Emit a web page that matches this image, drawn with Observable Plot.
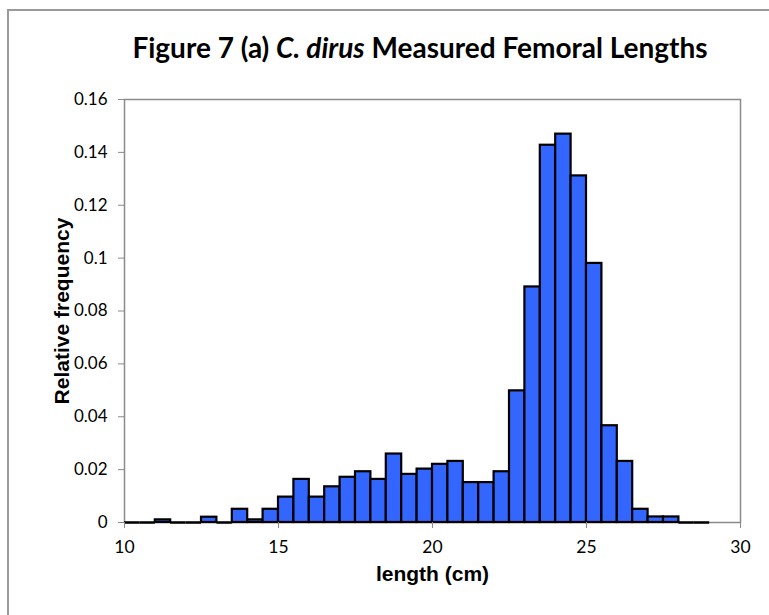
<!DOCTYPE html>
<html><head><meta charset="utf-8">
<script src="https://cdn.jsdelivr.net/npm/d3@7"></script>
<script src="https://cdn.jsdelivr.net/npm/@observablehq/plot@0.6"></script>
<style>
body{margin:0;background:#fff;}
#wrap{position:relative;width:769px;height:615px;overflow:hidden;}
#frame{position:absolute;left:7px;top:9px;width:800px;height:640px;border:2px solid #9a9a9a;}
#title{position:absolute;left:0;width:840px;top:30px;text-align:center;font-family:Lato,sans-serif;font-weight:bold;font-size:28px;color:#000;}
#chart{position:absolute;left:0;top:0;}
</style>
</head><body>
<div id="wrap"><div id="frame"></div><div id="title">Figure 7 (a) <i>C. dirus</i> Measured Femoral Lengths</div><div id="chart"></div></div>
<script>
const binStart = [10,10.5,11,11.5,12,12.5,13,13.5,14,14.5,15,15.5,16,16.5,17,17.5,18,18.5,19,19.5,20,20.5,21,21.5,22,22.5,23,23.5,24,24.5,25,25.5,26,26.5,27,27.5,28,28.5];
const relFreq = [0,0,0.001,0,0,0.002,0,0.005,0.001,0.005,0.0096,0.0163,0.0096,0.0135,0.0171,0.0192,0.0163,0.0259,0.0182,0.0202,0.022,0.0231,0.0151,0.0151,0.0192,0.0498,0.0891,0.1427,0.1469,0.1311,0.098,0.0366,0.0231,0.005,0.0021,0.0021,0,0];
const binWidth = 0.5;
const xTicks = [10,15,20,25,30];
const yTicks = [0,0.02,0.04,0.06,0.08,0.1,0.12,0.14,0.16];
const yTickLabels = ["0","0.02","0.04","0.06","0.08","0.1","0.12","0.14","0.16"];

const data = binStart.map((s,i)=>({x1:s, x2:s+binWidth, y:relFreq[i]}));

const chart = Plot.plot({
  width:769, height:615,
  marginLeft:124, marginRight:29, marginTop:99, marginBottom:93,
  style:{fontFamily:"Lato, sans-serif", fontSize:"17px", color:"#000", background:"transparent"},
  x:{domain:[10,30]},
  y:{domain:[0,0.16]},
  marks:[
    Plot.frame({stroke:"#8a8a8a", strokeWidth:1.5}),
    Plot.ruleY(data.filter(d=>d.y===0), {x1:"x1", x2:"x2", y:"y", stroke:"#000", strokeWidth:2.5}),
    Plot.rectY(data.filter(d=>d.y>0),{x1:"x1", x2:"x2", y:"y", fill:"#3366FF", stroke:"#000", strokeWidth:2.2}),
    Plot.axisX({ticks:xTicks, tickSize:6, tickPadding:12, stroke:"#8a8a8a", label:null, fontSize:17.5}),
    Plot.axisY({ticks:yTicks, tickSize:6, tickPadding:11, stroke:"#8a8a8a", label:null, fontSize:17,
      tickFormat:(d)=>yTickLabels[yTicks.findIndex(t=>Math.abs(t-d)<1e-9)]}),
    Plot.text(["Relative frequency"], {frameAnchor:"left", dx:-62, rotate:-90, textAnchor:"middle", fontWeight:"bold", fontSize:21, fontFamily:"Liberation Sans, Arial, sans-serif", fill:"#000"}),
    Plot.text(["length (cm)"], {frameAnchor:"bottom", dy:58, textAnchor:"middle", fontWeight:"bold", fontSize:21, fontFamily:"Liberation Sans, Arial, sans-serif", fill:"#000"})
  ]
});
document.getElementById("chart").appendChild(chart);
</script>
</body></html>
